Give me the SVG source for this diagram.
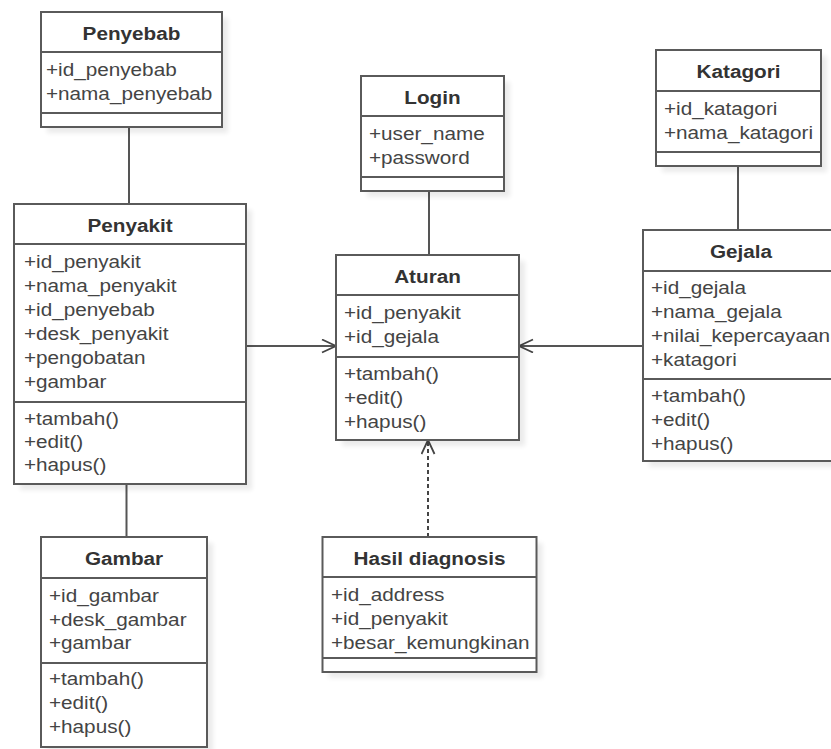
<svg xmlns="http://www.w3.org/2000/svg" width="831" height="749" viewBox="0 0 831 749">
  <defs>
    <style>
      .box { fill: #ffffff; stroke: #5a5a5a; stroke-width: 2; }
      .shadow { fill: #000000; opacity: 0.08; filter: url(#soft); }
      .sep { stroke: #5a5a5a; stroke-width: 2; }
      .title { font-family: "Liberation Sans", Arial, sans-serif; font-size: 18.5px; font-weight: bold; fill: #333333; text-anchor: middle; }
      .attr { font-family: "Liberation Sans", Arial, sans-serif; font-size: 18.5px; fill: #444444; }
      .link { fill: none; stroke: #555555; stroke-width: 2; }
      .dep { fill: none; stroke: #444444; stroke-width: 2; stroke-dasharray: 4 3; }
    </style>
    <filter id="soft" x="-10%" y="-10%" width="130%" height="130%">
      <feGaussianBlur stdDeviation="2.5"/>
    </filter>
    <marker id="open" markerWidth="16" markerHeight="16" refX="15" refY="7" orient="auto" markerUnits="userSpaceOnUse">
      <path d="M1,0.5 L15,7 L1,13.5" fill="none" stroke="#444444" stroke-width="1.8"/>
    </marker>
  </defs>

  <rect width="831" height="749" fill="#ffffff"/>

  <!-- associations and dependency -->
  <g id="connectors">
    <path class="link" d="M129,127 V204"/>
    <path class="link" d="M429,191 V255"/>
    <path class="link" d="M738,166 V230"/>
    <path class="link" d="M126.5,484 V537"/>
    <path class="link" d="M246,346 H336" marker-end="url(#open)"/>
    <path class="link" d="M643,346 H519" marker-end="url(#open)"/>
    <path class="dep" d="M428,537 V440" marker-end="url(#open)"/>
  </g>

  <!-- Penyebab -->
  <g id="penyebab">
    <rect class="shadow" x="47" y="18" width="181" height="115"/>
    <rect class="box" x="41" y="12" width="181" height="115"/>
    <line class="sep" x1="41" y1="52" x2="222" y2="52"/>
    <line class="sep" x1="41" y1="113" x2="222" y2="113"/>
    <text class="title" transform="translate(131.5,39.5) scale(1.12,1)">Penyebab</text>
    <text class="attr" transform="translate(46,76) scale(1.12,1)">+id_penyebab</text>
    <text class="attr" transform="translate(46,100) scale(1.12,1)">+nama_penyebab</text>
  </g>

  <!-- Penyakit -->
  <g id="penyakit">
    <rect class="shadow" x="20" y="210" width="232" height="280"/>
    <rect class="box" x="14" y="204" width="232" height="280"/>
    <line class="sep" x1="14" y1="244" x2="246" y2="244"/>
    <line class="sep" x1="14" y1="402" x2="246" y2="402"/>
    <text class="title" transform="translate(130,231.5) scale(1.12,1)">Penyakit</text>
    <text class="attr" transform="translate(24,268) scale(1.12,1)">+id_penyakit</text>
    <text class="attr" transform="translate(24,292) scale(1.12,1)">+nama_penyakit</text>
    <text class="attr" transform="translate(24,316) scale(1.12,1)">+id_penyebab</text>
    <text class="attr" transform="translate(24,340) scale(1.12,1)">+desk_penyakit</text>
    <text class="attr" transform="translate(24,364) scale(1.12,1)">+pengobatan</text>
    <text class="attr" transform="translate(24,388) scale(1.12,1)">+gambar</text>
    <text class="attr" transform="translate(24,425) scale(1.12,1)">+tambah()</text>
    <text class="attr" transform="translate(24,448) scale(1.12,1)">+edit()</text>
    <text class="attr" transform="translate(24,471) scale(1.12,1)">+hapus()</text>
  </g>

  <!-- Login -->
  <g id="login">
    <rect class="shadow" x="367" y="82" width="143" height="115"/>
    <rect class="box" x="361" y="76" width="143" height="115"/>
    <line class="sep" x1="361" y1="116" x2="504" y2="116"/>
    <line class="sep" x1="361" y1="177" x2="504" y2="177"/>
    <text class="title" transform="translate(432.5,103.5) scale(1.12,1)">Login</text>
    <text class="attr" transform="translate(369,140) scale(1.12,1)">+user_name</text>
    <text class="attr" transform="translate(369,164) scale(1.12,1)">+password</text>
  </g>

  <!-- Katagori -->
  <g id="katagori">
    <rect class="shadow" x="662" y="56" width="165" height="116"/>
    <rect class="box" x="656" y="50" width="165" height="116"/>
    <line class="sep" x1="656" y1="91" x2="821" y2="91"/>
    <line class="sep" x1="656" y1="152" x2="821" y2="152"/>
    <text class="title" transform="translate(738.5,77.5) scale(1.12,1)">Katagori</text>
    <text class="attr" transform="translate(664,115) scale(1.12,1)">+id_katagori</text>
    <text class="attr" transform="translate(664,139) scale(1.12,1)">+nama_katagori</text>
  </g>

  <!-- Aturan -->
  <g id="aturan">
    <rect class="shadow" x="342" y="261" width="183" height="185"/>
    <rect class="box" x="336" y="255" width="183" height="185"/>
    <line class="sep" x1="336" y1="295" x2="519" y2="295"/>
    <line class="sep" x1="336" y1="357" x2="519" y2="357"/>
    <text class="title" transform="translate(427.5,282.5) scale(1.12,1)">Aturan</text>
    <text class="attr" transform="translate(344,319) scale(1.12,1)">+id_penyakit</text>
    <text class="attr" transform="translate(344,343) scale(1.12,1)">+id_gejala</text>
    <text class="attr" transform="translate(344,380) scale(1.12,1)">+tambah()</text>
    <text class="attr" transform="translate(344,404) scale(1.12,1)">+edit()</text>
    <text class="attr" transform="translate(344,428) scale(1.12,1)">+hapus()</text>
  </g>

  <!-- Gejala -->
  <g id="gejala">
    <rect class="shadow" x="649" y="236" width="196" height="231"/>
    <rect class="box" x="643" y="230" width="196" height="231"/>
    <line class="sep" x1="643" y1="271" x2="839" y2="271"/>
    <line class="sep" x1="643" y1="379" x2="839" y2="379"/>
    <text class="title" transform="translate(741,257.5) scale(1.12,1)">Gejala</text>
    <text class="attr" transform="translate(651,294) scale(1.12,1)">+id_gejala</text>
    <text class="attr" transform="translate(651,318) scale(1.12,1)">+nama_gejala</text>
    <text class="attr" transform="translate(651,342) scale(1.12,1)">+nilai_kepercayaan</text>
    <text class="attr" transform="translate(651,366) scale(1.12,1)">+katagori</text>
    <text class="attr" transform="translate(651,402) scale(1.12,1)">+tambah()</text>
    <text class="attr" transform="translate(651,426) scale(1.12,1)">+edit()</text>
    <text class="attr" transform="translate(651,450) scale(1.12,1)">+hapus()</text>
  </g>

  <!-- Gambar -->
  <g id="gambar">
    <rect class="shadow" x="47" y="543" width="166" height="210"/>
    <rect class="box" x="41" y="537" width="166" height="210"/>
    <line class="sep" x1="41" y1="578" x2="207" y2="578"/>
    <line class="sep" x1="41" y1="663" x2="207" y2="663"/>
    <text class="title" transform="translate(124,564.5) scale(1.12,1)">Gambar</text>
    <text class="attr" transform="translate(49,601.5) scale(1.12,1)">+id_gambar</text>
    <text class="attr" transform="translate(49,625.5) scale(1.12,1)">+desk_gambar</text>
    <text class="attr" transform="translate(49,649) scale(1.12,1)">+gambar</text>
    <text class="attr" transform="translate(49,685) scale(1.12,1)">+tambah()</text>
    <text class="attr" transform="translate(49,709) scale(1.12,1)">+edit()</text>
    <text class="attr" transform="translate(49,733) scale(1.12,1)">+hapus()</text>
  </g>

  <!-- Hasil diagnosis -->
  <g id="hasil-diagnosis">
    <rect class="shadow" x="328.5" y="543" width="214" height="135"/>
    <rect class="box" x="322.5" y="537" width="214" height="135"/>
    <line class="sep" x1="322.5" y1="577" x2="536.5" y2="577"/>
    <line class="sep" x1="322.5" y1="658" x2="536.5" y2="658"/>
    <text class="title" transform="translate(429.5,564.5) scale(1.12,1)">Hasil diagnosis</text>
    <text class="attr" transform="translate(331,600.7) scale(1.12,1)">+id_address</text>
    <text class="attr" transform="translate(331,624.7) scale(1.12,1)">+id_penyakit</text>
    <text class="attr" transform="translate(331,648.5) scale(1.12,1)">+besar_kemungkinan</text>
  </g>
</svg>
